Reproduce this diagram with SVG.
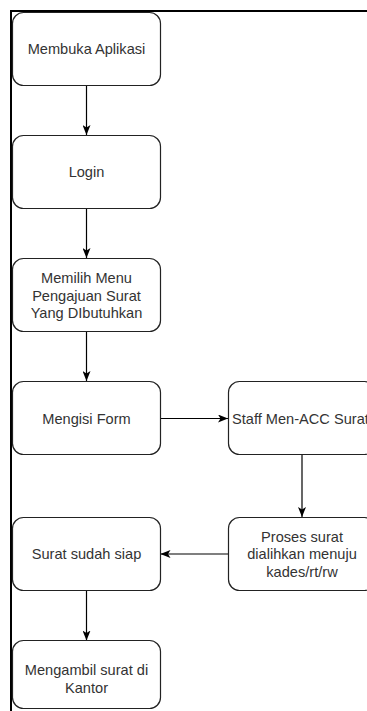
<svg xmlns="http://www.w3.org/2000/svg" width="367" height="711" viewBox="0 0 367 711">
<style>
.box{fill:#fff;stroke:#222;stroke-width:1.2}
.t{font-family:"Liberation Sans",Arial,sans-serif;font-size:14.6px;fill:#333;text-anchor:middle}
.c{fill:none;stroke:#000;stroke-width:1.2}
.frame{fill:none;stroke:#000;stroke-width:2}
</style>
<defs>
<marker id="arr" viewBox="0 0 10 8" refX="10" refY="4" markerWidth="10" markerHeight="8" markerUnits="userSpaceOnUse" orient="auto">
<path d="M0,0 L10,4 L0,8 L2.5,4 Z" fill="#000"/>
</marker>
</defs>
<rect width="367" height="711" fill="#fff"/>
<path class="frame" d="M11,711 V11 H367"/>
<g id="connectors">
<path class="c" d="M86.5,85.5 V135" marker-end="url(#arr)"/>
<path class="c" d="M86.5,208.5 V258" marker-end="url(#arr)"/>
<path class="c" d="M86.5,331.5 V381" marker-end="url(#arr)"/>
<path class="c" d="M160.5,418.5 H228" marker-end="url(#arr)"/>
<path class="c" d="M302,454.5 V517" marker-end="url(#arr)"/>
<path class="c" d="M228,554 H160.5" marker-end="url(#arr)"/>
<path class="c" d="M86.5,590.5 V640.5" marker-end="url(#arr)"/>
</g>
<g id="n1">
<rect class="box" x="12.5" y="12.5" width="148" height="73" rx="11"/>
<text class="t" x="86.5" y="53.5">Membuka Aplikasi</text>
</g>
<g id="n2">
<rect class="box" x="12.5" y="135.5" width="148" height="73" rx="11"/>
<text class="t" x="86.5" y="176.5">Login</text>
</g>
<g id="n3">
<rect class="box" x="12.5" y="258.5" width="148" height="73" rx="11"/>
<text class="t" x="86.5" y="283">Memilih Menu</text>
<text class="t" x="86.5" y="300.5">Pengajuan Surat</text>
<text class="t" x="86.5" y="318">Yang DIbutuhkan</text>
</g>
<g id="n4">
<rect class="box" x="12.5" y="381.5" width="148" height="73" rx="11"/>
<text class="t" x="86.5" y="423.5">Mengisi Form</text>
</g>
<g id="n5">
<rect class="box" x="228.5" y="381.5" width="147" height="73" rx="11"/>
<text class="t" x="232" y="423.5" style="text-anchor:start">Staff Men-ACC Surat</text>
</g>
<g id="n6">
<rect class="box" x="228.5" y="517.5" width="147" height="73" rx="11"/>
<text class="t" x="302" y="541.5">Proses surat</text>
<text class="t" x="302" y="559">dialihkan menuju</text>
<text class="t" x="302" y="576.5">kades/rt/rw</text>
</g>
<g id="n7">
<rect class="box" x="12.5" y="517.5" width="148" height="73" rx="11"/>
<text class="t" x="86.5" y="558.5">Surat sudah siap</text>
</g>
<g id="n8">
<rect class="box" x="12.5" y="640.5" width="148" height="68" rx="11"/>
<text class="t" x="86.5" y="675">Mengambil surat di</text>
<text class="t" x="86.5" y="692.5">Kantor</text>
</g>
</svg>
